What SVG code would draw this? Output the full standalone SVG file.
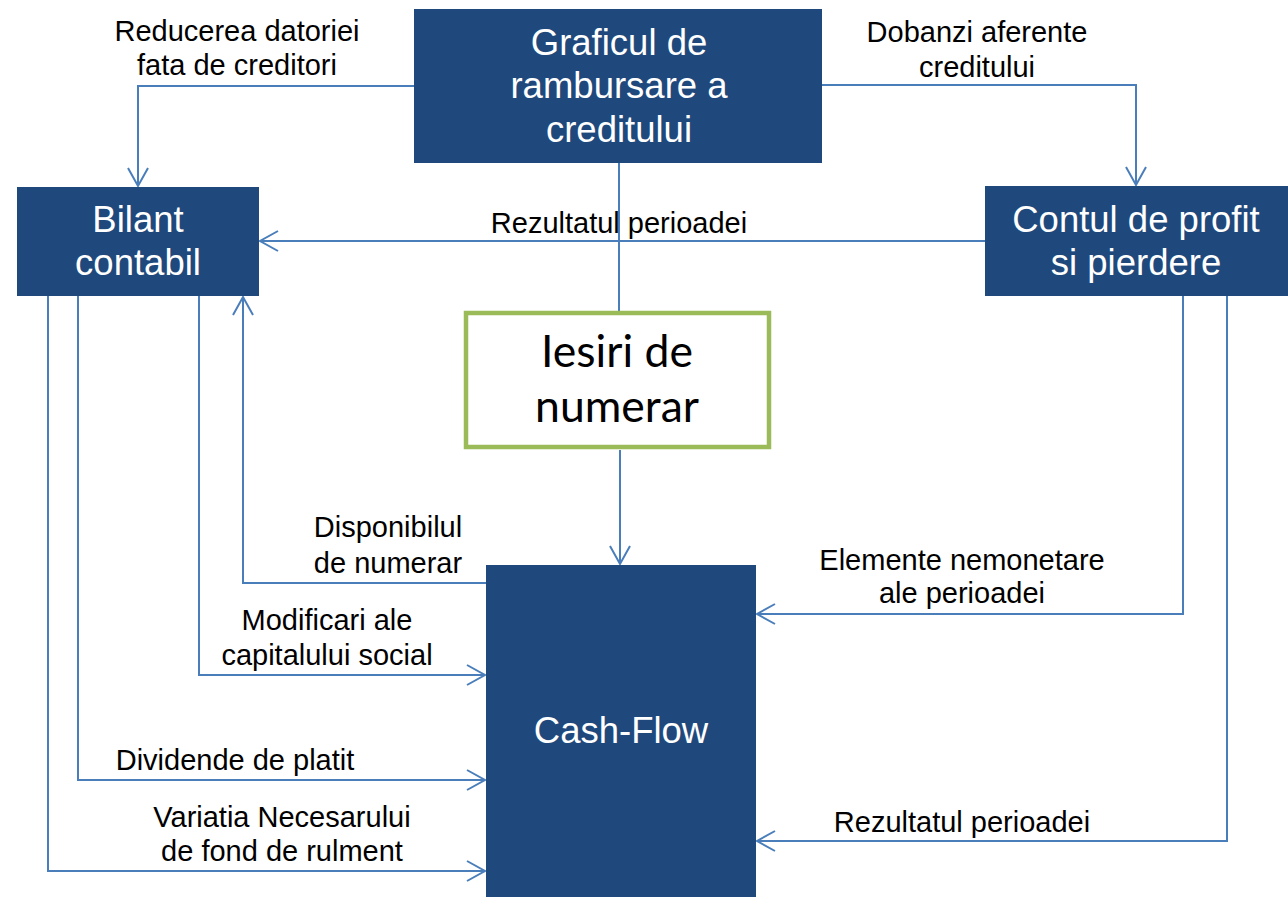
<svg xmlns="http://www.w3.org/2000/svg" width="1288" height="897" viewBox="0 0 1288 897">
<style>
.box{fill:#1F497D;}
.bt{font-family:"Liberation Sans",Arial,sans-serif;font-size:36.5px;fill:#FFFFFF;text-anchor:middle;}
.lb{font-family:"Liberation Sans",Arial,sans-serif;font-size:29px;fill:#000000;text-anchor:middle;}
.cn{fill:none;stroke:#4A7EBB;stroke-width:2;}
.ar{marker-end:url(#arr);}
.it{font-family:Lato,"Open Sans",sans-serif;font-size:44.5px;fill:#000000;text-anchor:middle;}
</style>
<defs>
<marker id="arr" markerUnits="userSpaceOnUse" markerWidth="24" markerHeight="24" viewBox="-20 -12 22 24" refX="0" refY="0" orient="auto">
<path d="M-18,-10 L0,0 L-18,10" fill="none" stroke="#4A7EBB" stroke-width="2"/>
</marker>
</defs>
<rect width="1288" height="897" fill="#FFFFFF"/>
<g id="connectors">
<path class="cn ar" d="M414,86 H138 V186"/>
<path class="cn ar" d="M822,85 H1136 V185"/>
<path class="cn" d="M619,163 V311"/>
<path class="cn ar" d="M985,241 H260"/>
<path class="cn ar" d="M620,450 V564"/>
<path class="cn ar" d="M486,583 H243 V297"/>
<path class="cn ar" d="M199,296 V675 H485"/>
<path class="cn ar" d="M78,296 V780 H485"/>
<path class="cn ar" d="M48,296 V871 H485"/>
<path class="cn ar" d="M1183,296 V614 H757"/>
<path class="cn ar" d="M1227,296 V841 H757"/>
<text class="lb" x="237" y="41">Reducerea datoriei</text>
<text class="lb" x="237" y="75">fata de creditori</text>
<text class="lb" x="977" y="42">Dobanzi aferente</text>
<text class="lb" x="977" y="77">creditului</text>
<text class="lb" x="619" y="233">Rezultatul perioadei</text>
<text class="lb" x="388" y="537">Disponibilul</text>
<text class="lb" x="388" y="573">de numerar</text>
<text class="lb" x="327" y="630">Modificari ale</text>
<text class="lb" x="327" y="665">capitalului social</text>
<text class="lb" x="235" y="770">Dividende de platit</text>
<text class="lb" x="282" y="827">Variatia Necesarului</text>
<text class="lb" x="282" y="861">de fond de rulment</text>
<text class="lb" x="962" y="570">Elemente nemonetare</text>
<text class="lb" x="962" y="603">ale perioadei</text>
<text class="lb" x="962" y="832">Rezultatul perioadei</text>
</g>
<g id="grafic">
<rect class="box" x="414" y="9" width="408" height="154"/>
<text class="bt" x="619" y="55">Graficul de</text>
<text class="bt" x="619" y="98">rambursare a</text>
<text class="bt" x="619" y="142">creditului</text>
</g>
<g id="bilant">
<rect class="box" x="17" y="187" width="242" height="109"/>
<text class="bt" x="138" y="232">Bilant</text>
<text class="bt" x="138" y="275">contabil</text>
</g>
<g id="contul">
<rect class="box" x="985" y="186" width="303" height="110"/>
<text class="bt" x="1136" y="232">Contul de profit</text>
<text class="bt" x="1136" y="275">si pierdere</text>
</g>
<g id="iesiri">
<rect x="466" y="313" width="303" height="134" fill="#FFFFFF" stroke="#9BBB59" stroke-width="4.5"/>
<text class="it" x="617" y="367">Iesiri de</text>
<text class="it" x="617" y="422">numerar</text>
</g>
<g id="cashflow">
<rect class="box" x="486" y="565" width="270" height="332"/>
<text class="bt" x="621" y="743">Cash-Flow</text>
</g>
</svg>
